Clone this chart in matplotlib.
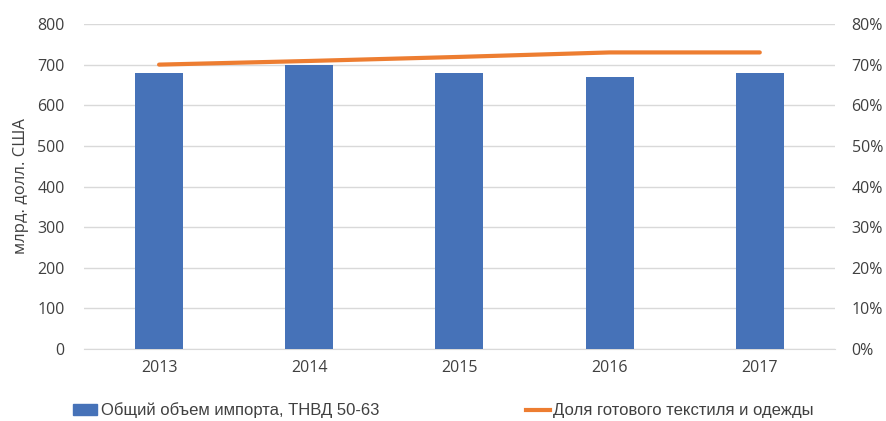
import matplotlib.pyplot as plt
from matplotlib.patches import Patch
from matplotlib.lines import Line2D

years = ['2013', '2014', '2015', '2016', '2017']
import_total = [680, 700, 680, 670, 680]
share_ready = [70.0, 70.9, 71.9, 73.0, 73.0]

plt.rcParams['font.family'] = ['Open Sans', 'DejaVu Sans']

fig = plt.figure(figsize=(8.86, 4.21), dpi=100)
ax = fig.add_axes([0.0948, 0.171, 0.8475, 0.772])
ax2 = ax.twinx()

x = range(len(years))
ax.bar(x, import_total, width=0.32, color='#4672b8', zorder=3)
ax2.plot(x, share_ready, color='#ed7d31', lw=3, solid_capstyle='round', zorder=4)

ax.set_xlim(-0.5, 4.5)
ax.set_ylim(0, 800)
ax.set_yticks(range(0, 801, 100))
ax2.set_ylim(0, 80)
ax2.set_yticks(range(0, 81, 10))
ax2.set_yticklabels([f'{v}%' for v in range(0, 81, 10)])
ax.set_xticks(list(x))
ax.set_xticklabels(years)

ax.grid(axis='y', color='#d9d9d9', lw=1, zorder=0)
for a in (ax, ax2):
    for s in a.spines.values():
        s.set_visible(False)
    a.tick_params(length=0, labelsize=11.5, colors='#404040')
ax.spines['bottom'].set_visible(True)
ax.spines['bottom'].set_color('#d9d9d9')
ax.tick_params(axis='y', pad=14)
ax2.tick_params(axis='y', pad=12)
ax.tick_params(axis='x', pad=8)
ax2.set_zorder(ax.get_zorder() + 1)
ax2.patch.set_visible(False)

ax.set_ylabel('млрд. долл. США', fontsize=12, color='#404040', labelpad=6)

handles = [Patch(color='#4672b8'), Line2D([0], [0], color='#ed7d31', lw=3)]
labels = ['Общий объем импорта, ТНВД 50-63', 'Доля готового текстиля и одежды']
fig.legend(handles, labels, loc='center', bbox_to_anchor=(0.5005, 0.025), ncol=2,
           frameon=False, handlelength=1.45, handletextpad=0.2, columnspacing=8.8,
           prop={'family': ['Liberation Sans', 'DejaVu Sans'], 'size': 12},
           labelcolor='#404040')

fig.savefig('out.png', dpi=100)
